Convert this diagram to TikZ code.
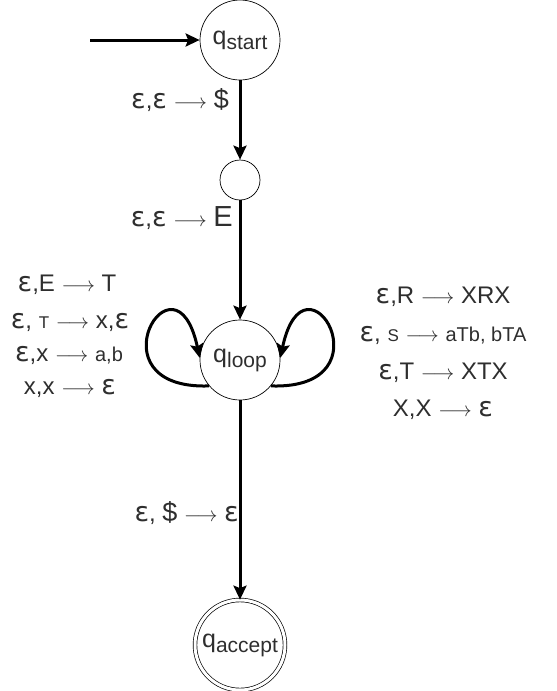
\documentclass[tikz,border=0pt]{standalone}
\usepackage{fontspec}
\setmainfont{Liberation Sans}
\newfontfamily\dvs{DejaVu Sans}
\usetikzlibrary{arrows.meta}
\newcommand{\sar}{{\fontsize{20}{20}\selectfont$\longrightarrow$}}
\newcommand{\lar}{{\fontsize{21}{21}\selectfont$\longrightarrow$}}
\newcommand{\eps}{{\dvs\fontsize{27}{27}\selectfont ε}}
\newcommand{\dol}{{\fontsize{27}{27}\selectfont\$}}
\begin{document}
\begin{tikzpicture}[x=1pt,y=-1pt,
  state/.style={circle,draw,line width=0.7pt,minimum size=80pt,inner sep=0pt},
  edge/.style={line width=3pt,-{Stealth[length=14pt,width=13pt,inset=2.5pt]}},
  lab/.style={inner sep=0pt,text=black!82,font=\fontsize{24}{28}\selectfont},
  qn/.style={text=black!82,font=\fontsize{25}{28}\selectfont}]
\useasboundingbox (0,0) rectangle (557,691);
\node[state,qn] (qs) at (240,40) {q\raisebox{-5pt}{\fontsize{21}{21}\selectfont start}};
\node[state,minimum size=40pt] (qm) at (240,180) {};
\node[state,qn] (ql) at (240,360) {q\raisebox{-5pt}{\fontsize{21}{21}\selectfont loop}};
\node[state,qn,minimum size=90pt,double,double distance=3pt] (qa) at (240,645) {q\raisebox{-5pt}{\fontsize{21}{21}\selectfont accept}};
\coordinate (init) at (90,40);
\draw[edge] (init) -- (qs);
\draw[edge] (qs) -- (qm);
\draw[edge] (qm) -- (ql);
\draw[edge] (ql) -- (qa);
\draw[edge] (ql.220) .. controls (88,390) and (175,242) .. (ql.177);
\draw[edge] (ql.-40) .. controls (392,390) and (305,242) .. (ql.3);
\node[lab,anchor=east] (l1) at (229,100) {\eps,\eps{} \sar{} \dol};
\node[lab,anchor=east] (l2) at (233,218) {\eps,\eps{} \sar{} {\fontsize{29}{29}\selectfont E}};
\node[lab,anchor=east] (l3) at (239,513) {\eps, \dol{} \sar{} \eps};
\node[lab] (a1) at (67,285) {\eps,E \lar{} T};
\node[lab] (a2) at (70,322) {\eps, {\fontsize{17}{17}\selectfont T} \lar{} x,\eps};
\node[lab] (a3) at (69,355) {\eps,x \lar{} {\fontsize{20}{20}\selectfont a,b}};
\node[lab] (a4) at (70,388) {x,x \lar{} \eps};
\node[lab] (b1) at (443,297) {\eps,R \sar{} XRX};
\node[lab] (b2) at (443,335) {\eps, {\fontsize{17}{17}\selectfont S} \lar{} {\fontsize{20}{20}\selectfont aTb, bTA}};
\node[lab] (b3) at (443,373) {\eps,T \lar{} XTX};
\node[lab] (b4) at (443,410) {X,X \lar{} \eps};
\end{tikzpicture}
\end{document}
